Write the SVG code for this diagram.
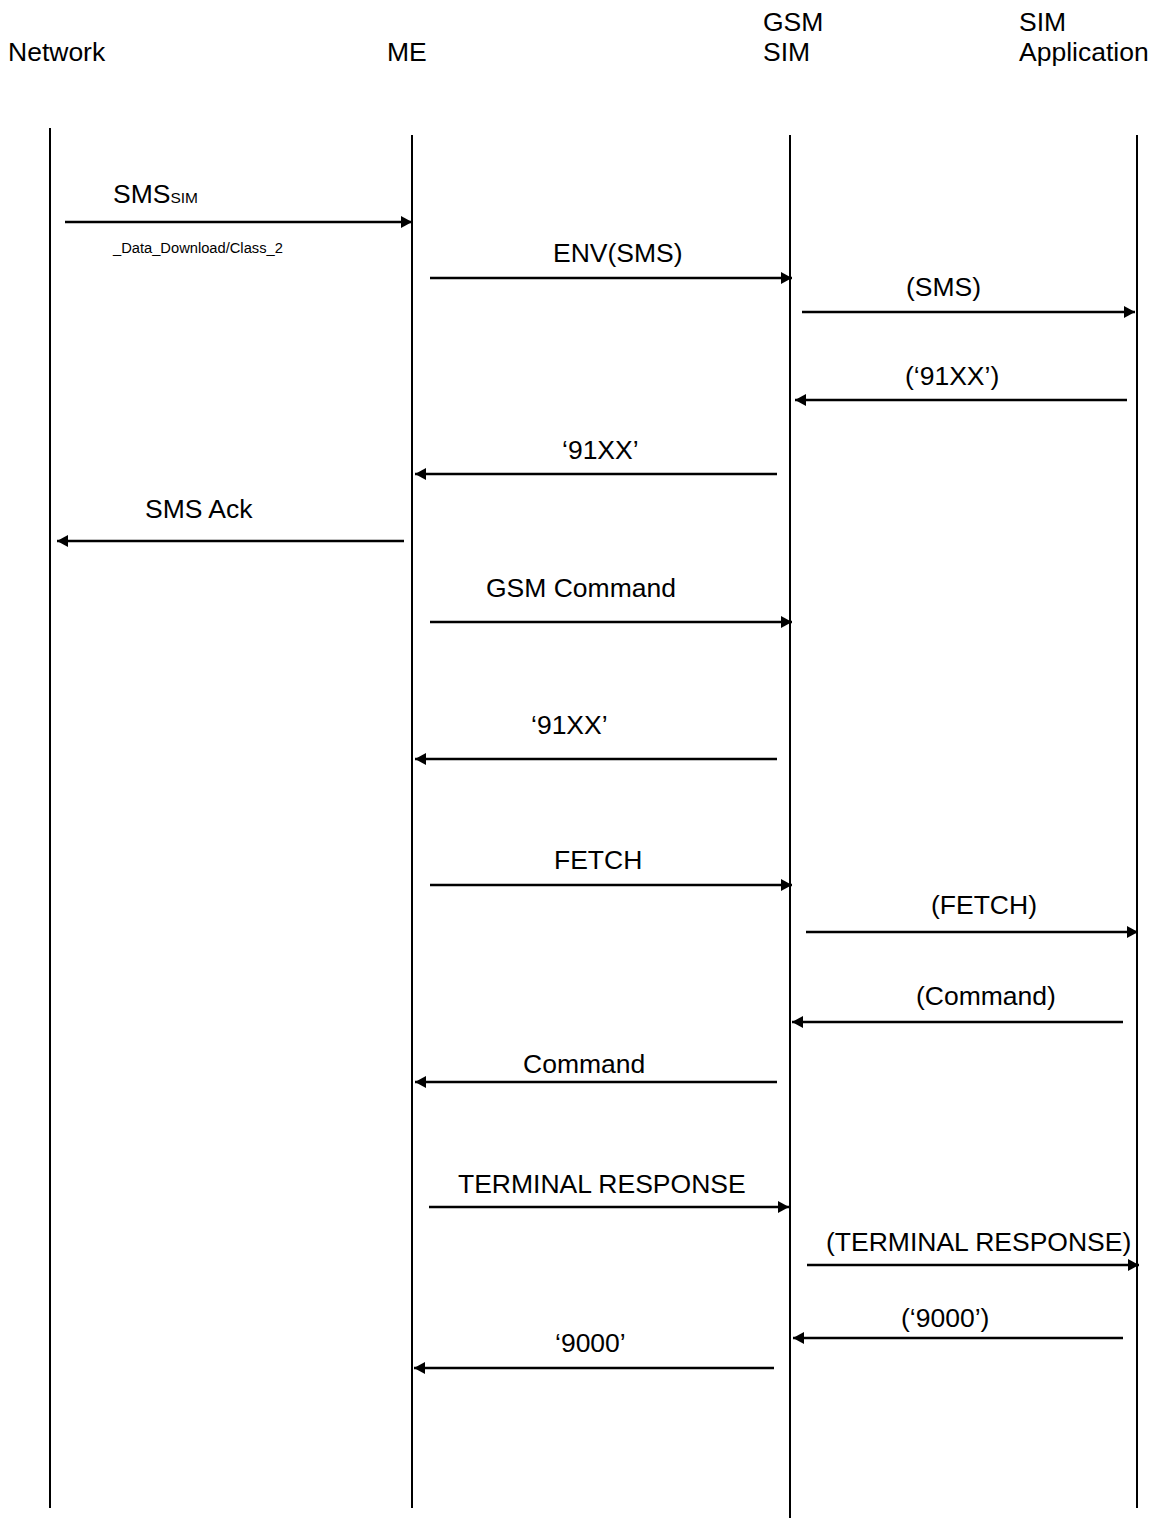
<svg xmlns="http://www.w3.org/2000/svg" width="1150" height="1519" viewBox="0 0 1150 1519">
<style>
text{font-family:"Liberation Sans",Arial,sans-serif;font-size:26.5px;fill:#000}
.small{font-size:14.7px}
.sub{font-size:15.5px}
.life{stroke:#000;stroke-width:2;fill:none}
.msg{stroke:#000;stroke-width:2.3;fill:none;marker-end:url(#ah)}
</style>
<defs>
<marker id="ah" viewBox="0 0 11 12" refX="11" refY="6" markerWidth="11" markerHeight="12" markerUnits="userSpaceOnUse" orient="auto">
<path d="M0,0 L11,6 L0,12 z" fill="#000"/>
</marker>
</defs>
<rect width="1150" height="1519" fill="#fff"/>
<g id="network">
<text x="8" y="61">Network</text>
<line class="life" x1="50" y1="128" x2="50" y2="1508"/>
</g>
<g id="me">
<text x="387" y="61">ME</text>
<line class="life" x1="412" y1="135" x2="412" y2="1508"/>
</g>
<g id="gsm-sim">
<text x="763" y="31">GSM</text>
<text x="763" y="61">SIM</text>
<line class="life" x1="790" y1="135" x2="790" y2="1518"/>
</g>
<g id="sim-application">
<text x="1019" y="31">SIM</text>
<text x="1019" y="61">Application</text>
<line class="life" x1="1137" y1="135" x2="1137" y2="1508"/>
</g>
<g id="connectors">
<line class="msg" x1="65" y1="222" x2="412" y2="222"/>
<line class="msg" x1="430" y1="278" x2="792" y2="278"/>
<line class="msg" x1="802" y1="312" x2="1135" y2="312"/>
<line class="msg" x1="1127" y1="400" x2="795" y2="400"/>
<line class="msg" x1="777" y1="474" x2="415" y2="474"/>
<line class="msg" x1="404" y1="541" x2="57" y2="541"/>
<line class="msg" x1="430" y1="622" x2="792" y2="622"/>
<line class="msg" x1="777" y1="759" x2="415" y2="759"/>
<line class="msg" x1="430" y1="885" x2="792" y2="885"/>
<line class="msg" x1="806" y1="932" x2="1138" y2="932"/>
<line class="msg" x1="1123" y1="1022" x2="792" y2="1022"/>
<line class="msg" x1="777" y1="1082" x2="415" y2="1082"/>
<line class="msg" x1="429" y1="1207" x2="789" y2="1207"/>
<line class="msg" x1="807" y1="1265" x2="1139" y2="1265"/>
<line class="msg" x1="1123" y1="1338" x2="793" y2="1338"/>
<line class="msg" x1="774" y1="1368" x2="414" y2="1368"/>
</g>
<g id="labels">
<text x="113" y="203">SMS<tspan class="sub">SIM</tspan></text>
<text class="small" x="113" y="253">_Data_Download/Class_2</text>
<text x="553" y="262">ENV(SMS)</text>
<text x="906" y="296">(SMS)</text>
<text x="905" y="385">(‘91XX’)</text>
<text x="562" y="459">‘91XX’</text>
<text x="145" y="518">SMS Ack</text>
<text x="486" y="597">GSM Command</text>
<text x="531" y="734">‘91XX’</text>
<text x="554" y="869">FETCH</text>
<text x="931" y="914">(FETCH)</text>
<text x="916" y="1005">(Command)</text>
<text x="523" y="1073">Command</text>
<text x="458" y="1193">TERMINAL RESPONSE</text>
<text x="826" y="1251">(TERMINAL RESPONSE)</text>
<text x="901" y="1327">(‘9000’)</text>
<text x="555" y="1352">‘9000’</text>
</g>
</svg>
